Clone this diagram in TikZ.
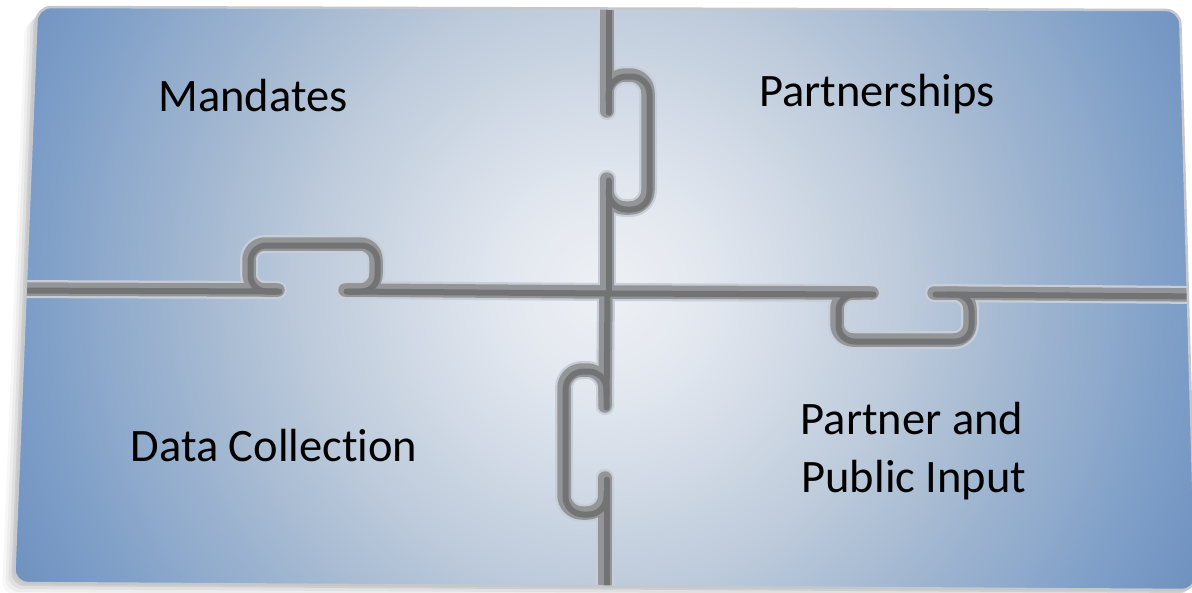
\documentclass[tikz,border=0pt]{standalone}
\usepackage{fontspec}
\setmainfont{Carlito}[Ligatures=NoCommon]

% board colours, from the bright middle out to the corners
\definecolor{bcA}{HTML}{EEF0F4}
\definecolor{bcB}{HTML}{E2E7EF}
\definecolor{bcC}{HTML}{BFCCDC}
\definecolor{bcD}{HTML}{A6BAD2}
\definecolor{bcE}{HTML}{7C9DC7}
\definecolor{bcF}{HTML}{6F91BE}
\definecolor{grooveHaloCol}{HTML}{C8CED7}
\definecolor{grooveBodyCol}{HTML}{939598}
\definecolor{grooveCoreCol}{HTML}{727375}
\definecolor{rimCol}{HTML}{C4C8CD}

\pgfdeclareradialshading{boardglow}{\pgfpoint{0bp}{0bp}}{%
  color(0bp)=(bcA); color(4bp)=(bcB); color(11bp)=(bcC);
  color(15bp)=(bcD); color(22bp)=(bcE); color(25bp)=(bcF); color(50bp)=(bcF)}

\tikzset{
  groovehalo/.style={draw=grooveHaloCol, line width=18pt, line cap=round, line join=round},
  groovebody/.style={draw=grooveBodyCol, line width=13.5pt, line cap=round, line join=round},
  groovecore/.style={draw=grooveCoreCol, line width=6pt, line cap=round, line join=round, shift={(1.5,1.5)}},
  lbl/.style={font=\fontsize{46.5pt}{58pt}\selectfont, text=black, inner sep=0pt},
}

% the cuts between the four pieces, drawn once per layer style
\newcommand\groovelayer[1]{%
  % left half of the horizontal cut, knob pointing up
  \draw[#1] (0,289) -- (278,290);
  \draw[#1] (345,290) -- (607,292);
  \draw[#1, rounded corners=16pt] (275,290) -- (249,290) -- (249,244) -- (376,244) -- (376,290) -- (348,290);
  % right half of the horizontal cut, knob pointing down
  \draw[#1] (607,292) -- (872,293);
  \draw[#1] (934,293) -- (1205,295);
  \draw[#1, rounded corners=16pt] (860,293) -- (837,293) -- (837,340) -- (970,340) -- (970,293) -- (946,293);
  % upper half of the vertical cut, knob pointing right
  \draw[#1] (607,0) -- (607,111);
  \draw[#1] (607,179) -- (607,292);
  \draw[#1, rounded corners=18pt] (607,100) -- (607,75) -- (648,75) -- (648,208) -- (607,208) -- (607,190);
  % lower half of the vertical cut, knob pointing left
  \draw[#1] (606,292) -- (605,406);
  \draw[#1] (605,478) -- (605,600);
  \draw[#1, rounded corners=18pt] (605,395) -- (605,370) -- (564,370) -- (564,513) -- (605,513) -- (605,490);
}

\begin{document}
\begin{tikzpicture}[x=1pt, y=-1pt]
  \useasboundingbox (0,0) rectangle (1192,592);
  \fill[white] (0,0) rectangle (1192,592);

  % soft shadow to the lower left of the board
  \foreach \d/\o in {12/0.03, 9/0.04, 6/0.05, 3/0.08} {
    \begin{scope}[shift={(-\d,\d)}]
      \fill[black, opacity=\o, rounded corners=14pt]
        (37,7) -- (1180,10) -- (1196,590) -- (14,583) -- cycle;
    \end{scope}
  }

  % the board with its glow
  \begin{scope}
    \clip[rounded corners=14pt] (37,7) -- (1180,10) -- (1196,590) -- (14,583) -- cycle;
    \shade[shading=boardglow] (605,290) circle[radius=660];
    \groovelayer{groovehalo}
    \groovelayer{groovebody}
    \groovelayer{groovecore}
  \end{scope}
  \draw[rimCol, line width=2.5pt, rounded corners=14pt]
    (37,7) -- (1180,10) -- (1196,590) -- (14,583) -- cycle;

  % labels
  \node[lbl, anchor=base] (mandates) at (253,111) {Mandates};
  \node[lbl, anchor=base] (partnerships) at (877,106) {Partnerships};
  \node[lbl, anchor=base] (datacoll) at (274,461) {Data Collection};
  \node[lbl, anchor=base] (inputA) at (912,434) {Partner and};
  \node[lbl, anchor=base] (inputB) at (914,492) {Public Input};
\end{tikzpicture}
\end{document}
